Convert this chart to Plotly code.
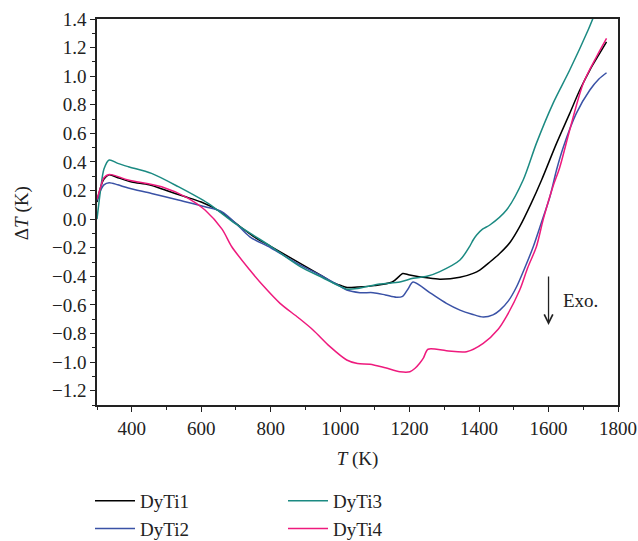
import plotly.graph_objects as go

# ---- data ----
t1 = [300, 310, 320, 335, 360, 400, 450, 500, 550, 600, 650, 700, 750, 800, 850, 900, 950,
      980, 1000, 1020, 1050, 1100, 1150, 1170, 1180, 1200, 1250, 1287, 1345, 1383, 1402,
      1431, 1460, 1490, 1517, 1550, 1580, 1623, 1661, 1690, 1719, 1745, 1767]
v1 = [0.12, 0.22, 0.28, 0.31, 0.29, 0.26, 0.24, 0.20, 0.16, 0.12, 0.06, -0.03, -0.12, -0.19,
      -0.26, -0.33, -0.40, -0.445, -0.462, -0.478, -0.475, -0.465, -0.44, -0.40, -0.38, -0.39,
      -0.41, -0.42, -0.407, -0.379, -0.356, -0.30, -0.239, -0.16, -0.053, 0.11, 0.274, 0.53,
      0.74, 0.903, 1.043, 1.15, 1.24]

t2 = [300, 310, 320, 335, 360, 390, 457, 534, 611, 659, 700, 740, 800, 884, 950, 1000, 1019,
      1057, 1095, 1130, 1162, 1180, 1195, 1210, 1258, 1306, 1345, 1380, 1412, 1440, 1460,
      1485, 1508, 1530, 1556, 1580, 1604, 1623, 1642, 1680, 1719, 1745, 1767]
v2 = [0.13, 0.20, 0.24, 0.255, 0.24, 0.218, 0.18, 0.134, 0.087, 0.052, -0.03, -0.124, -0.20,
      -0.32, -0.40, -0.47, -0.496, -0.514, -0.514, -0.53, -0.547, -0.54, -0.49, -0.44, -0.514,
      -0.589, -0.636, -0.665, -0.685, -0.67, -0.636, -0.57, -0.473, -0.35, -0.193, -0.02,
      0.157, 0.344, 0.50, 0.74, 0.903, 0.98, 1.024]

t3 = [300, 310, 320, 335, 360, 390, 457, 534, 620, 697, 755, 800, 884, 950, 1000, 1019, 1050,
      1114, 1172, 1210, 1250, 1287, 1345, 1373, 1383, 1393, 1410, 1431, 1479, 1527, 1565,
      1613, 1661, 1714, 1728]
v3 = [0.0, 0.20, 0.35, 0.414, 0.39, 0.367, 0.32, 0.227, 0.11, -0.03, -0.12, -0.19, -0.33,
      -0.41, -0.47, -0.49, -0.485, -0.454, -0.44, -0.414, -0.40, -0.367, -0.286, -0.19,
      -0.146, -0.111, -0.07, -0.041, 0.064, 0.274, 0.53, 0.81, 1.043, 1.323, 1.405]

t4 = [300, 310, 320, 335, 390, 486, 563, 611, 660, 688, 740, 780, 827, 880, 922, 970, 1019,
      1050, 1086, 1130, 1172, 1201, 1215, 1229, 1240, 1253, 1306, 1364, 1412, 1455, 1479,
      1517, 1540, 1565, 1585, 1613, 1632, 1661, 1700, 1738, 1767]
v4 = [0.14, 0.22, 0.29, 0.313, 0.274, 0.227, 0.146, 0.064, -0.07, -0.193, -0.356, -0.47,
      -0.589, -0.69, -0.775, -0.89, -0.985, -1.01, -1.015, -1.04, -1.067, -1.067, -1.045,
      -1.008, -0.97, -0.91, -0.92, -0.927, -0.869, -0.77, -0.68, -0.496, -0.34, -0.193, 0.0,
      0.23, 0.36, 0.624, 0.95, 1.136, 1.265]

names = ["DyTi1", "DyTi2", "DyTi3", "DyTi4"]
colors = ["#000000", "#3a52a6", "#1b8a82", "#ee1a7d"]
xticks = [400, 600, 800, 1000, 1200, 1400, 1600, 1800]
yticks = [1.4, 1.2, 1.0, 0.8, 0.6, 0.4, 0.2, 0.0, -0.2, -0.4, -0.6, -0.8, -1.0, -1.2]

FONT = "Liberation Serif"
FS = 19

fig = go.Figure()
series = [(t1, v1), (t2, v2), (t3, v3), (t4, v4)]
legends = ["legend", "legend", "legend2", "legend2"]
for (t, v), n, c, lg in zip(series, names, colors, legends):
    fig.add_trace(go.Scatter(x=t, y=v, mode="lines", name=n, legend=lg,
                             line=dict(color=c, width=1.5, shape="spline", smoothing=0.8)))

axis_common = dict(showgrid=False, zeroline=False, showline=True, linecolor="#222",
                   linewidth=1.5, mirror=True, ticks="outside", ticklen=5, tickwidth=1.3,
                   tickcolor="#222", automargin=True,
                   tickfont=dict(family=FONT, size=FS, color="#222"))

fig.update_xaxes(range=[300, 1800], tickvals=xticks,
                 title=dict(text="<i>T</i> (K)", font=dict(family=FONT, size=FS, color="#222"),
                            standoff=14),
                 minor=dict(dtick=100, tick0=0, ticks="outside", ticklen=3, tickcolor="#222",
                            tickwidth=1.2),
                 **axis_common)
fig.update_yaxes(range=[-1.3, 1.4], tickvals=yticks, tickformat=".1f",
                 minor=dict(dtick=0.1, tick0=0, ticks="outside", ticklen=3, tickcolor="#222",
                            tickwidth=1.2),
                 **axis_common)

# y-axis title as a rotated annotation left of the tick labels
fig.add_annotation(x=-0.144, y=0.497, xref="paper", yref="paper", text="Δ<i>T</i> (K)",
                   textangle=-90, showarrow=False, xanchor="center", yanchor="middle",
                   font=dict(family=FONT, size=FS, color="#222"))

fig.add_annotation(x=1600, y=-0.74, ax=1600, ay=-0.39, xref="x", yref="y", axref="x",
                   ayref="y", showarrow=True, arrowhead=5, arrowsize=1.3, arrowwidth=1.3,
                   arrowcolor="#222", text="")
fig.add_annotation(x=1635, y=-0.57, xref="x", yref="y", text="Exo.", showarrow=False,
                   xanchor="left", font=dict(family=FONT, size=FS, color="#222"))

leg_common = dict(font=dict(family=FONT, size=FS, color="#222"), orientation="v",
                  bgcolor="rgba(0,0,0,0)", yanchor="top", xanchor="left",
                  xref="container", yref="container",
                  itemwidth=40, tracegroupgap=0)
fig.update_layout(
    width=638, height=541,
    margin=dict(l=97, r=20, t=19, b=136, autoexpand=False),
    plot_bgcolor="white", paper_bgcolor="white",
    legend=dict(x=90 / 638, y=1 - 482 / 541, **leg_common),
    legend2=dict(x=283 / 638, y=1 - 482 / 541, **leg_common),
)

fig.write_html("out.html", config={"displayModeBar": False},
               post_script="document.body.style.margin='0';")
